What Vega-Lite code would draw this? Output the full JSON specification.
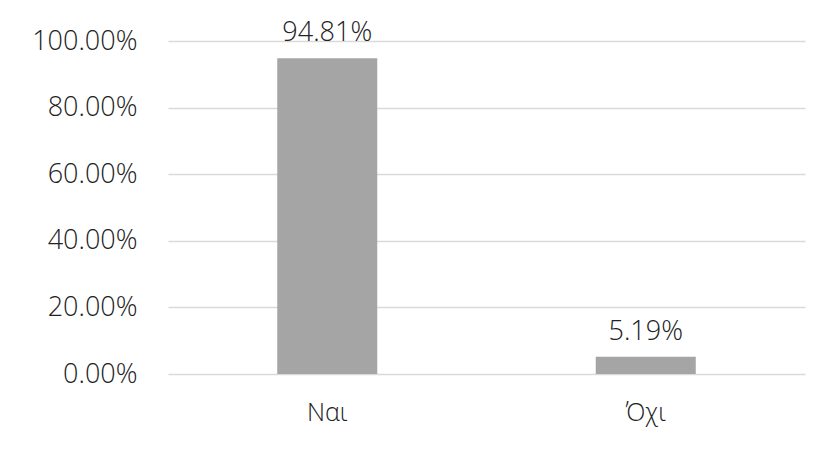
{
  "$schema": "https://vega.github.io/schema/vega-lite/v6.json",
  "width": 637,
  "height": 333,
  "autosize": {"type": "none"},
  "padding": {"left": 168, "top": 41, "right": 17, "bottom": 76},
  "background": "white",
  "config": {
    "view": {"stroke": null},
    "font": "Open Sans",
    "axis": {"labelFont": "Open Sans", "labelColor": "#222222", "labelFontWeight": 300}
  },
  "data": {"values": [
    {"answer": "Ναι", "pct": 0.9481, "label": "94.81%"},
    {"answer": "Όχι", "pct": 0.0519, "label": "5.19%"}
  ]},
  "encoding": {
    "x": {
      "field": "answer", "type": "nominal", "sort": null,
      "scale": {"paddingInner": 0.686, "paddingOuter": 0.343},
      "axis": {"title": null, "labelAngle": 0, "ticks": false, "domain": false, "labelFontSize": 25, "labelBaseline": "alphabetic", "labelPadding": 46}
    },
    "y": {
      "field": "pct", "type": "quantitative",
      "scale": {"domain": [0, 1]},
      "axis": {"title": null, "format": ".2%", "values": [0, 0.2, 0.4, 0.6, 0.8, 1], "ticks": false, "domain": false, "labelFontSize": 27, "labelPadding": 31, "gridColor": "#d9d9d9", "gridWidth": 1.3}
    }
  },
  "layer": [
    {"mark": {"type": "bar", "color": "#a5a5a5"}},
    {"mark": {"type": "text", "dy": -17, "baseline": "alphabetic", "fontSize": 27, "fontWeight": 300, "color": "#222222", "font": "Open Sans"},
     "encoding": {"text": {"field": "label"}}}
  ]
}
